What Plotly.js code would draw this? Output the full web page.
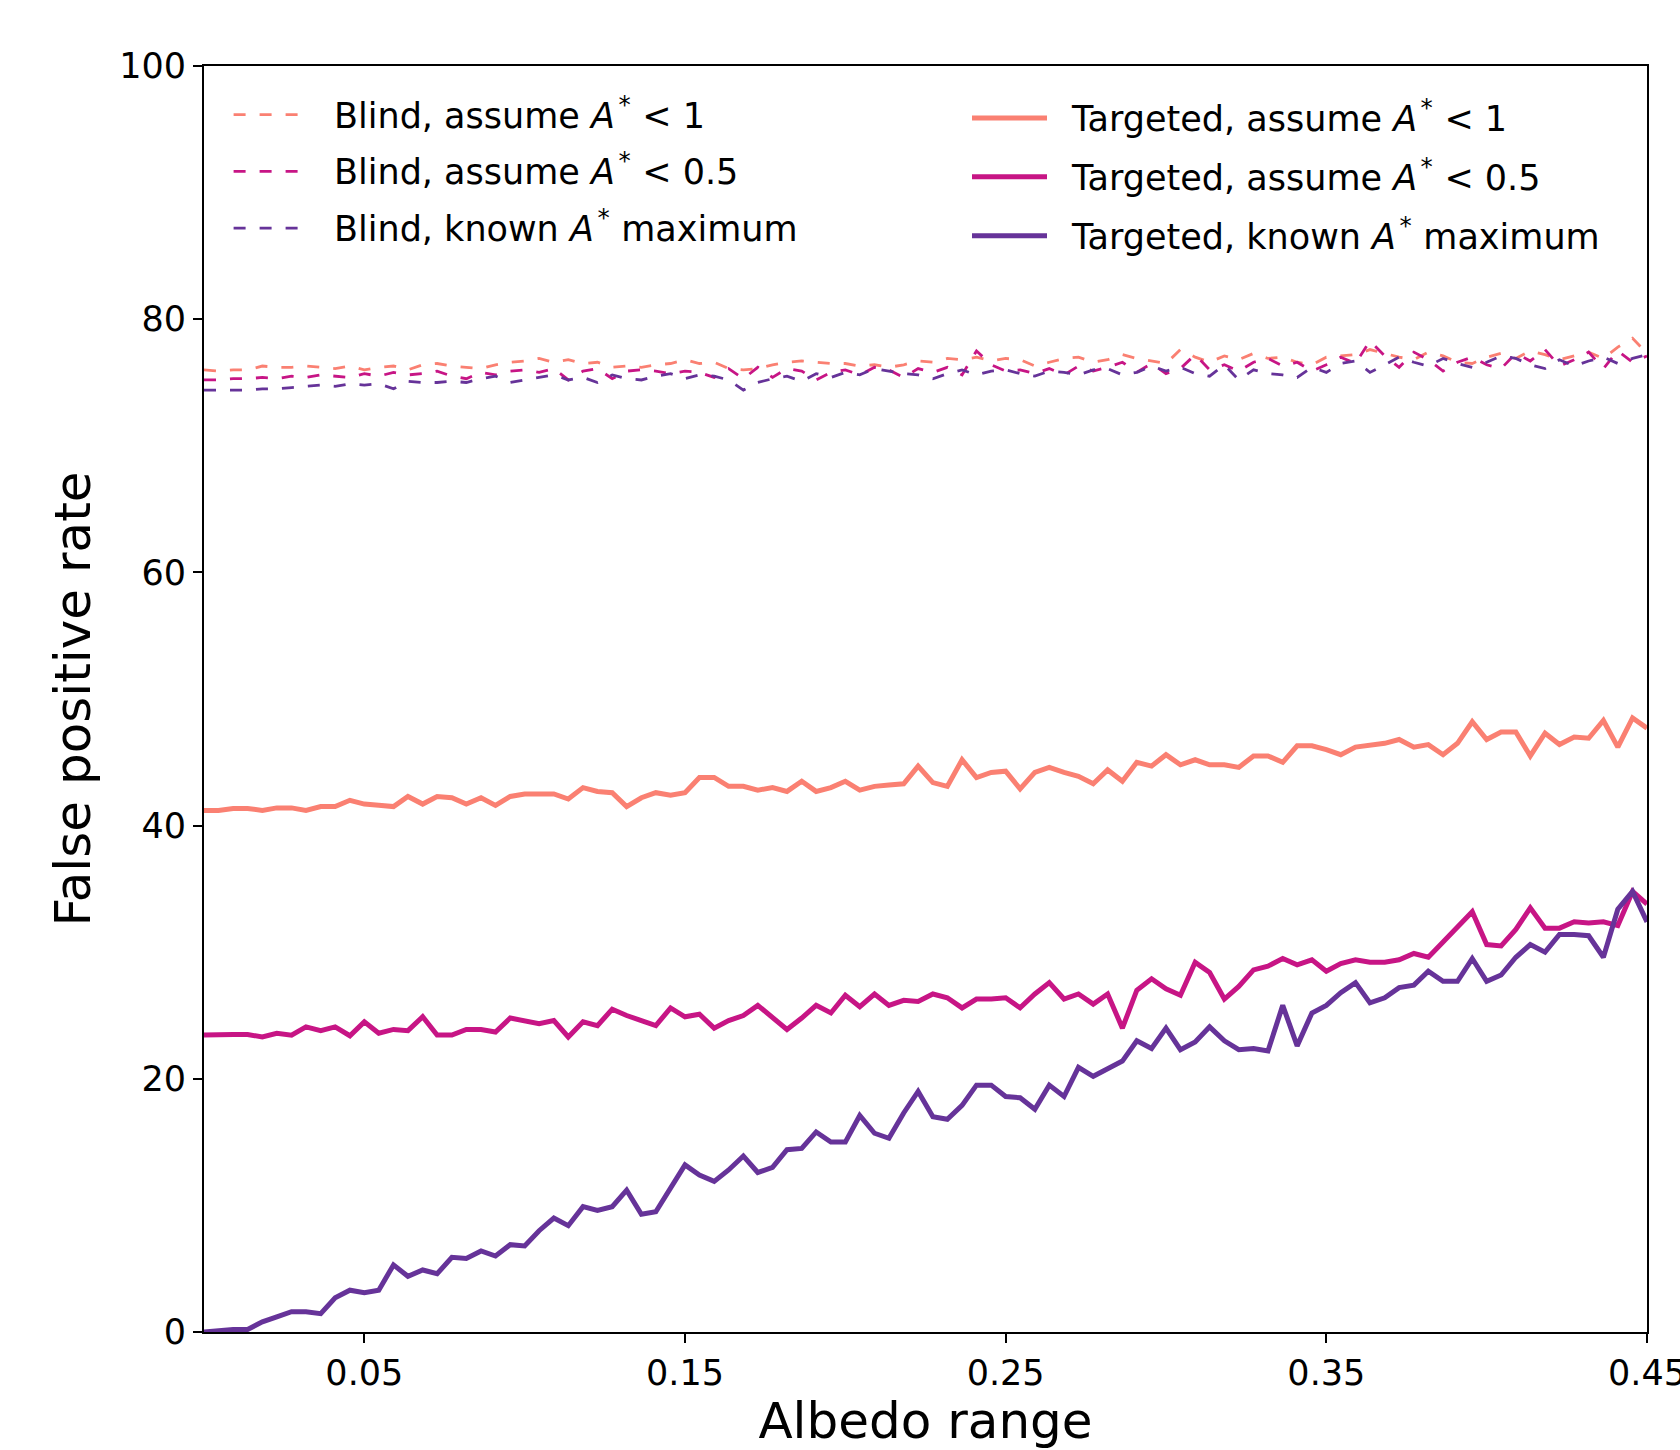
<!DOCTYPE html>
<html>
<head>
<meta charset="utf-8">
<script src="https://cdn.plot.ly/plotly-3.0.1.min.js"></script>
<style>html,body{margin:0;padding:0;background:#fff;}#chart{width:1680px;height:1450px;}</style>
</head>
<body>
<div id="chart"></div>
<script>
// ---------------- data ----------------
const albedoRange = [0, 0.0045, 0.0091, 0.0136, 0.0182, 0.0227, 0.0273, 0.0318, 0.0364, 0.0409,
  0.0455, 0.05, 0.0545, 0.0591, 0.0636, 0.0682, 0.0727, 0.0773, 0.0818, 0.0864,
  0.0909, 0.0955, 0.1, 0.1045, 0.1091, 0.1136, 0.1182, 0.1227, 0.1273, 0.1318,
  0.1364, 0.1409, 0.1455, 0.15, 0.1545, 0.1591, 0.1636, 0.1682, 0.1727, 0.1773,
  0.1818, 0.1864, 0.1909, 0.1955, 0.2, 0.2045, 0.2091, 0.2136, 0.2182, 0.2227,
  0.2273, 0.2318, 0.2364, 0.2409, 0.2455, 0.25, 0.2545, 0.2591, 0.2636, 0.2682,
  0.2727, 0.2773, 0.2818, 0.2864, 0.2909, 0.2955, 0.3, 0.3045, 0.3091, 0.3136,
  0.3182, 0.3227, 0.3273, 0.3318, 0.3364, 0.3409, 0.3455, 0.35, 0.3545, 0.3591,
  0.3636, 0.3682, 0.3727, 0.3773, 0.3818, 0.3864, 0.3909, 0.3955, 0.4, 0.4045,
  0.4091, 0.4136, 0.4182, 0.4227, 0.4273, 0.4318, 0.4364, 0.4409, 0.4455, 0.45];

const blindAssume1 = [
  76.0, 75.9, 76.0, 76.0, 76.3, 76.2, 76.2, 76.3, 76.2, 76.1, 76.3, 76.0, 76.2, 76.3, 76.0, 76.4, 76.5, 76.3, 76.2, 76.1, 76.4, 76.6, 76.7, 76.9, 76.6,
  76.8, 76.5, 76.6, 76.2, 76.3, 76.2, 76.4, 76.5, 76.8, 76.5, 76.6, 76.1, 76.0, 76.1, 76.4, 76.6, 76.7, 76.6, 76.5, 76.5, 76.3, 76.4, 76.2, 76.4, 76.7,
  76.6, 76.9, 76.8, 77.0, 76.7, 76.9, 76.8, 76.3, 76.6, 76.9, 77.0, 76.6, 76.8, 77.2, 76.9, 76.7, 76.5, 77.6, 77.0, 76.6, 77.1, 76.8, 77.3, 76.9, 77.0,
  76.6, 76.4, 77.0, 77.1, 77.2, 77.6, 77.3, 77.0, 76.8, 77.4, 77.1, 76.6, 76.5, 77.0, 77.3, 76.9, 77.5, 77.2, 76.8, 77.1, 77.4, 76.9, 77.8, 78.5, 77.3];

const blindAssume05 = [
  75.2, 75.2, 75.3, 75.3, 75.4, 75.3, 75.5, 75.4, 75.6, 75.5, 75.4, 75.7, 75.5, 75.8, 75.6, 75.7, 75.9, 75.5, 75.3, 75.8, 75.6, 75.9, 76.0, 75.8, 76.1,
  75.2, 75.9, 76.1, 75.3, 75.9, 76.0, 75.9, 75.7, 75.9, 75.8, 75.4, 76.1, 75.3, 76.2, 75.4, 76.1, 75.9, 75.2, 75.8, 76.0, 75.6, 76.2, 76.0, 75.4, 76.1,
  75.8, 76.2, 75.6, 77.5, 76.4, 75.9, 76.0, 75.7, 76.1, 75.6, 76.3, 75.9, 76.2, 76.6, 75.8, 76.5, 75.7, 76.1, 77.2, 76.0, 76.4, 75.9, 76.6, 76.9, 76.3,
  76.6, 75.9, 76.4, 77.0, 76.5, 78.3, 77.1, 76.2, 77.4, 76.8, 75.9, 76.6, 77.0, 76.4, 76.1, 77.3, 76.7, 77.6, 76.3, 76.8, 77.4, 76.1, 77.5, 76.6, 77.1];

const blindKnownMax = [
  74.4, 74.4, 74.4, 74.4, 74.5, 74.5, 74.6, 74.7, 74.8, 74.7, 74.9, 74.8, 74.9, 74.5, 75.1, 75.0, 75.0, 75.1, 75.0, 75.3, 75.5, 75.0, 75.2, 75.4, 75.6,
  75.2, 75.4, 75.0, 75.6, 75.3, 75.2, 75.5, 75.7, 75.3, 75.6, 75.5, 75.2, 74.4, 75.0, 75.3, 75.5, 75.1, 75.7, 75.4, 75.8, 75.6, 76.1, 75.9, 75.7, 75.6,
  75.3, 75.7, 76.0, 75.6, 75.9, 76.0, 75.7, 75.5, 75.9, 75.8, 75.6, 76.0, 76.1, 75.6, 75.8, 76.3, 75.9, 76.2, 75.7, 75.5, 76.4, 75.2, 76.0, 75.7, 75.6,
  75.4, 76.2, 75.8, 76.5, 76.7, 75.8, 76.4, 77.0, 76.6, 76.3, 76.9, 76.5, 76.2, 76.6, 77.1, 76.9, 76.4, 76.1, 76.8, 76.3, 76.7, 77.0, 76.5, 76.9, 77.2];

const targetedAssume1 = [
  41.2, 41.2, 41.35, 41.35, 41.2, 41.4, 41.4, 41.2, 41.5, 41.5, 42.0, 41.7, 41.6, 41.5, 42.3, 41.7, 42.3, 42.2, 41.7, 42.2, 41.6, 42.3, 42.5, 42.5, 42.5,
  42.1, 43.0, 42.7, 42.6, 41.5, 42.2, 42.6, 42.4, 42.6, 43.8, 43.8, 43.1, 43.1, 42.8, 43.0, 42.7, 43.5, 42.7, 43.0, 43.5, 42.8, 43.1, 43.2, 43.3, 44.7,
  43.4, 43.1, 45.2, 43.8, 44.2, 44.3, 42.9, 44.2, 44.6, 44.2, 43.9, 43.3, 44.4, 43.5, 45.0, 44.7, 45.6, 44.8, 45.2, 44.8, 44.8, 44.6, 45.5, 45.5, 45.0,
  46.3, 46.3, 46.0, 45.6, 46.2, 46.3, 46.5, 46.8, 46.2, 46.4, 45.6, 46.5, 48.2, 46.8, 47.4, 47.4, 45.5, 47.3, 46.4, 47.0, 46.9, 48.3, 46.2, 48.5, 47.7];

const targetedAssume05 = [
  23.45, 23.5, 23.5, 23.5, 23.3, 23.6, 23.45, 24.1, 23.8, 24.1, 23.4, 24.5, 23.6, 23.9, 23.8, 24.9, 23.45, 23.45, 23.9, 23.9, 23.7, 24.8, 24.6, 24.35, 24.6,
  23.3, 24.5, 24.2, 25.5, 25.0, 24.6, 24.2, 25.6, 24.9, 25.1, 24.0, 24.6, 25.0, 25.8, 24.9, 23.9, 24.8, 25.8, 25.2, 26.6, 25.7, 26.7, 25.8, 26.2, 26.1,
  26.7, 26.4, 25.6, 26.3, 26.3, 26.4, 25.6, 26.7, 27.6, 26.3, 26.7, 25.9, 26.7, 24.0, 27.0, 27.9, 27.1, 26.6, 29.2, 28.4, 26.3, 27.3, 28.6, 28.9, 29.5,
  29.0, 29.4, 28.5, 29.1, 29.4, 29.2, 29.2, 29.4, 29.9, 29.6, 30.8, 32.0, 33.2, 30.6, 30.5, 31.8, 33.5, 31.9, 31.9, 32.4, 32.3, 32.4, 32.1, 34.8, 33.8];

const targetedKnownMax = [
  0.0, 0.1, 0.2, 0.2, 0.8, 1.2, 1.6, 1.6, 1.45, 2.7, 3.3, 3.1, 3.3, 5.3, 4.4, 4.9, 4.6, 5.9, 5.8, 6.4, 6.0, 6.9, 6.8, 8.0, 9.0,
  8.4, 9.9, 9.6, 9.9, 11.2, 9.3, 9.5, 11.4, 13.2, 12.4, 11.9, 12.8, 13.9, 12.6, 13.0, 14.4, 14.5, 15.8, 15.0, 15.0, 17.1, 15.7, 15.3, 17.3, 19.0,
  17.0, 16.8, 17.9, 19.5, 19.5, 18.6, 18.5, 17.6, 19.5, 18.6, 20.9, 20.2, 20.8, 21.4, 23.0, 22.4, 24.0, 22.3, 22.9, 24.1, 23.0, 22.3, 22.4, 22.2, 25.8,
  22.6, 25.2, 25.8, 26.8, 27.6, 26.0, 26.4, 27.2, 27.4, 28.5, 27.7, 27.7, 29.5, 27.7, 28.2, 29.6, 30.6, 30.0, 31.4, 31.4, 31.3, 29.6, 33.4, 34.8, 32.4];

const xTickVals = [0.05, 0.15, 0.25, 0.35, 0.45];
const xTickText = ['0.05', '0.15', '0.25', '0.35', '0.45'];
const yTickVals = [0, 20, 40, 60, 80, 100];
const yTickText = ['0', '20', '40', '60', '80', '100'];

const AST = '&#8202;<sup>*</sup>&#8196;';
const blindLabels = [
  'Blind, assume <i>A</i>' + AST + '&lt; 1',
  'Blind, assume <i>A</i>' + AST + '&lt; 0.5',
  'Blind, known <i>A</i>' + AST + 'maximum'];
const targetedLabels = [
  'Targeted, assume <i>A</i>' + AST + '&lt; 1',
  'Targeted, assume <i>A</i>' + AST + '&lt; 0.5',
  'Targeted, known <i>A</i>' + AST + 'maximum'];

// ---------------- styling ----------------
const COLORS = ['#FA8072', '#C71585', '#663399'];
const FONT = 'DejaVu Sans, Liberation Sans, sans-serif';
const DASH = '12px,14px';
const SOLID_W = 5;
const DASH_W = 2.8;

const W = 1680, H = 1450;
const M = {l: 204, r: 33, t: 66, b: 118};
const PW = W - M.l - M.r, PH = H - M.t - M.b;
const px2x = p => (p - M.l) / PW;
const px2y = p => (H - M.b - p) / PH;

const blindSeries = [blindAssume1, blindAssume05, blindKnownMax];
const targetedSeries = [targetedAssume1, targetedAssume05, targetedKnownMax];

const traces = [];
blindSeries.forEach((ys, i) => traces.push({
  x: albedoRange, y: ys, type: 'scatter', mode: 'lines',
  name: blindLabels[i], showlegend: false,
  line: {color: COLORS[i], width: DASH_W, dash: DASH}
}));
targetedSeries.forEach((ys, i) => traces.push({
  x: albedoRange, y: ys, type: 'scatter', mode: 'lines',
  name: targetedLabels[i], showlegend: false,
  line: {color: COLORS[i], width: SOLID_W}
}));

// custom legend (line samples + labels), in pixel positions converted to paper
const shapes = [], annotations = [];
const leftRows = [114.6, 171.4, 228.2];
const rightRows = [117.9, 176.8, 235.7];
const leftTextRows = [112.5, 169.3, 226.1];
const rightTextRows = [115.8, 174.7, 233.6];
blindLabels.forEach((t, i) => {
  shapes.push({type: 'line', xref: 'paper', yref: 'paper',
    x0: px2x(233.6), x1: px2x(302), y0: px2y(leftRows[i]), y1: px2y(leftRows[i]),
    line: {color: COLORS[i], width: DASH_W, dash: DASH}});
  annotations.push({xref: 'paper', yref: 'paper', x: px2x(332), y: px2y(leftTextRows[i]),
    xanchor: 'left', yanchor: 'middle', showarrow: false, text: t,
    font: {family: FONT, size: 35, color: '#000'}});
});
targetedLabels.forEach((t, i) => {
  shapes.push({type: 'line', xref: 'paper', yref: 'paper',
    x0: px2x(972), x1: px2x(1047), y0: px2y(rightRows[i]), y1: px2y(rightRows[i]),
    line: {color: COLORS[i], width: SOLID_W}});
  annotations.push({xref: 'paper', yref: 'paper', x: px2x(1069), y: px2y(rightTextRows[i]),
    xanchor: 'left', yanchor: 'middle', showarrow: false, text: t,
    font: {family: FONT, size: 35, color: '#000'}});
});

const layout = {
  width: W, height: H,
  margin: M,
  paper_bgcolor: '#fff', plot_bgcolor: '#fff',
  font: {family: FONT, size: 35, color: '#000'},
  showlegend: false,
  xaxis: {
    range: [0, 0.45], tickvals: xTickVals, ticktext: xTickText,
    showgrid: false, zeroline: false,
    showline: true, mirror: true, linecolor: '#000', linewidth: 2,
    ticks: 'outside', ticklen: 9, tickwidth: 2, tickcolor: '#000',
    ticklabeloverflow: 'allow',
    tickfont: {family: FONT, size: 35, color: '#000'},
    title: {text: 'Albedo range', font: {family: FONT, size: 50, color: '#000'}, standoff: 14}
  },
  yaxis: {
    range: [0, 100], tickvals: yTickVals, ticktext: yTickText,
    showgrid: false, zeroline: false,
    showline: true, mirror: true, linecolor: '#000', linewidth: 2,
    ticks: 'outside', ticklen: 9, tickwidth: 2, tickcolor: '#000',
    tickfont: {family: FONT, size: 35, color: '#000'},
    title: {text: 'False positive rate', font: {family: FONT, size: 50, color: '#000'}, standoff: 13}
  },
  shapes: shapes,
  annotations: annotations
};

Plotly.newPlot('chart', traces, layout, {displayModeBar: false, staticPlot: true});
</script>
</body>
</html>
